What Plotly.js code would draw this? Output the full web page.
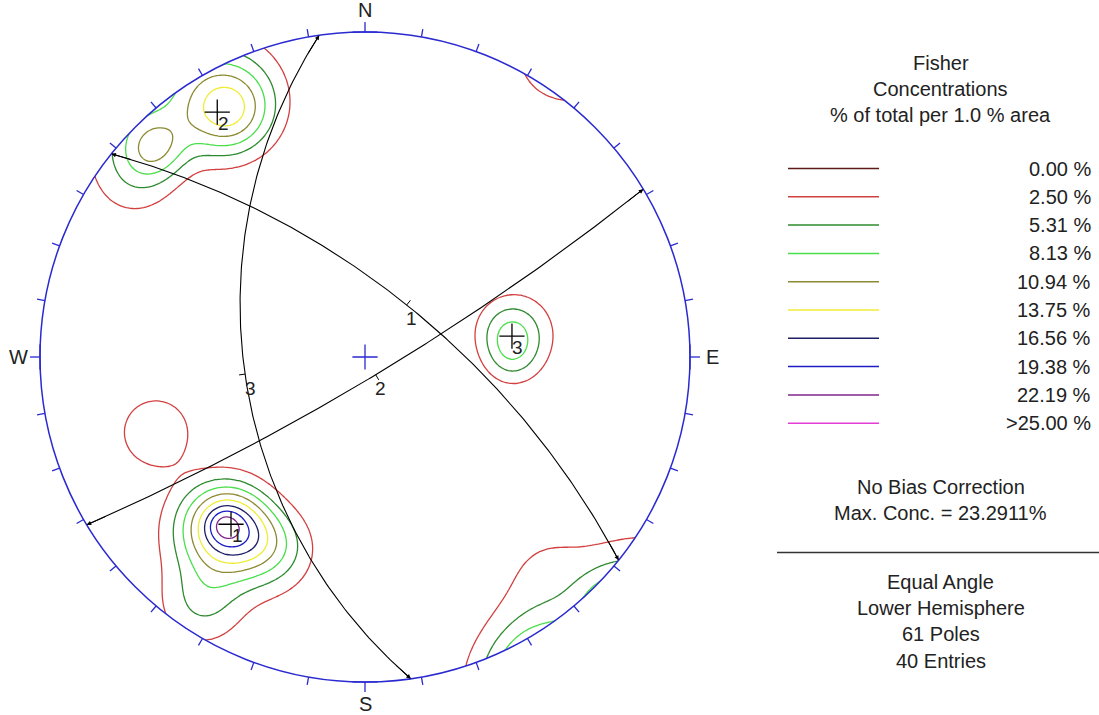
<!DOCTYPE html>
<html><head><meta charset="utf-8">
<script src="https://cdn.plot.ly/plotly-3.0.1.min.js"></script>
<style>html,body{margin:0;padding:0;background:#fff}</style>
</head><body><div id="chart" style="width:1099px;height:715px"></div>
<script>
// ---- Joint set planes (great circles): dip direction / dip, degrees ----
const planeNames  = ['1', '2', '3'];
const planeDipDir = [38.7, 148.9, 261.9];
const planeDip    = [66.8, 82.7, 49.1];

// ---- Fisher concentration centres (trend/plunge of pole groups) ----
const compTrend  = [219, 220, 206, 213.4, 250.2, 80.7, 91, 331, 315, 307.9, 140];
const compPlunge = [22, 22, 23.7, 5.5, 21.6, 40.7, 41.3, 7.5, 5.0, 6.2, 6];
const compPeak   = [20, 3.3, 6.5, 5.0, 4.9, 8.5, 3.5, 15.5, 8.5, 3.8, 3.2];
const compSpread = [7.5, 2.5, 7, 5.5, 6.5, 7, 5.5, 6.8, 4.5, 6, 9];

// ---- Contour legend ----
const levelValues = [0.00, 2.50, 5.3125, 8.125, 10.9375, 13.75, 16.5625, 19.375, 22.1875, 25.00];
const levelLabels = ['0.00 %', '2.50 %', '5.31 %', '8.13 %', '10.94 %', '13.75 %', '16.56 %', '19.38 %', '22.19 %', '>25.00 %'];
const levelColors = ['#5e1a1a', '#d24040', '#2e8a2e', '#4ade4a', '#8c8a32', '#f0ec36', '#1e1e64', '#1c1cc4', '#82268c', '#e23ed6'];

const cardinalLabels = ['N', 'E', 'S', 'W'];
const titleLines = ['Fisher', 'Concentrations', '% of total per 1.0 % area'];
const infoLinesA = ['No Bias Correction', 'Max. Conc. = 23.2911%'];
const infoLinesB = ['Equal Angle', 'Lower Hemisphere', '61 Poles', '40 Entries'];

// ---------------------------------------------------------------------
const D2R = Math.PI / 180;
const FONT = 'Liberation Sans, Arial, sans-serif';
const TXT = '#222';
const RIM = '#2a2ad0';

function vec(tr, pl) {
  return [Math.sin(tr * D2R) * Math.cos(pl * D2R), Math.cos(tr * D2R) * Math.cos(pl * D2R), Math.sin(pl * D2R)];
}
function proj(v) {
  const s = v[2] < 0 ? -1 : 1;
  const x = v[0] * s, y = v[1] * s, z = v[2] * s;
  return [x / (1 + z), y / (1 + z)];
}
const comps = compTrend.map((t, i) => ({
  m: vec(t, compPlunge[i]), a: compPeak[i], k: 1 / Math.pow(compSpread[i] * D2R, 2)
}));
function density(x, y) {
  const r2 = x * x + y * y, d = 1 + r2;
  const v = [2 * x / d, 2 * y / d, (1 - r2) / d];
  let s = 0;
  for (const c of comps) {
    const cs = Math.abs(v[0] * c.m[0] + v[1] * c.m[1] + v[2] * c.m[2]);
    s += c.a * Math.exp(c.k * (cs - 1));
  }
  return s;
}

// grid
const NG = 261, G0 = -1.15, G1 = 1.15;
const gx = [], gy = [];
for (let i = 0; i < NG; i++) { gx.push(G0 + (G1 - G0) * i / (NG - 1)); gy.push(G0 + (G1 - G0) * i / (NG - 1)); }
const gz = gy.map(y => gx.map(x => density(x, y)));

const drawnLevels = levelValues.slice(1, 9);
const zmin = drawnLevels[0], zmax = drawnLevels[drawnLevels.length - 1];
const cscale = [];
const nL = drawnLevels.length;
for (let i = 0; i < nL; i++) {
  const lo = i === 0 ? 0 : (i - 0.5) / (nL - 1);
  const hi = i === nL - 1 ? 1 : (i + 0.5) / (nL - 1);
  cscale.push([lo, levelColors[i + 1]]);
  cscale.push([hi, levelColors[i + 1]]);
}

const traces = [];
traces.push({
  type: 'contour', x: gx, y: gy, z: gz, xaxis: 'x', yaxis: 'y',
  zmin: zmin, zmax: zmax, colorscale: cscale, showscale: false,
  contours: { coloring: 'lines', start: zmin, end: zmax, size: (zmax - zmin) / (nL - 1), showlabels: false },
  line: { width: 1.3, smoothing: 0.6 }, hoverinfo: 'skip'
});

// great circles
const annotations = [];
const shapes = [];
planeDipDir.forEach((dd, p) => {
  const s = [Math.sin((dd - 90) * D2R), Math.cos((dd - 90) * D2R), 0];
  const dv = vec(dd, planeDip[p]);
  const xs = [], ys = [];
  for (let a = 0; a <= 180; a += 1) {
    const ca = Math.cos(a * D2R), sa = Math.sin(a * D2R);
    const v = [ca * s[0] + sa * dv[0], ca * s[1] + sa * dv[1], ca * s[2] + sa * dv[2]];
    const q = proj(v); xs.push(q[0]); ys.push(q[1]);
  }
  traces.push({ type: 'scatter', mode: 'lines', x: xs, y: ys, line: { color: '#000', width: 1.1 }, hoverinfo: 'skip', xaxis: 'x', yaxis: 'y' });
  // arrowheads at both ends
  [[0, 4], [xs.length - 1, xs.length - 5]].forEach(([e, b]) => {
    annotations.push({ xref: 'x', yref: 'y', axref: 'x', ayref: 'y', x: xs[e], y: ys[e], ax: xs[b], ay: ys[b],
      text: '', showarrow: true, arrowhead: 2, arrowsize: 0.9, arrowwidth: 1, arrowcolor: '#000', standoff: 0 });
  });
  // dip vector tick + label
  const q = proj(dv);
  const dir = [Math.sin(dd * D2R), Math.cos(dd * D2R)];
  const tl = 6 / 325;
  traces.push({ type: 'scatter', mode: 'lines', x: [q[0], q[0] + dir[0] * tl], y: [q[1], q[1] + dir[1] * tl],
    line: { color: '#000', width: 1 }, hoverinfo: 'skip', xaxis: 'x', yaxis: 'y' });
  annotations.push({ xref: 'x', yref: 'y', x: q[0], y: q[1], xshift: 5, yshift: -14, text: planeNames[p],
    showarrow: false, font: { family: FONT, size: 19, color: TXT } });
  // pole
  const pv = vec(dd + 180, 90 - planeDip[p]);
  const pp = proj(pv);
  traces.push({ type: 'scatter', mode: 'markers', x: [pp[0]], y: [pp[1]],
    marker: { symbol: 'cross-thin', size: 18, line: { color: '#000', width: 1.3 } }, hoverinfo: 'skip', xaxis: 'x', yaxis: 'y' });
  annotations.push({ xref: 'x', yref: 'y', x: pp[0], y: pp[1], xshift: 6, yshift: -11, text: planeNames[p],
    showarrow: false, font: { family: FONT, size: 19, color: TXT } });
});
// centre
traces.push({ type: 'scatter', mode: 'markers', x: [0], y: [0],
  marker: { symbol: 'cross-thin', size: 18, line: { color: RIM, width: 1.3 } }, hoverinfo: 'skip', xaxis: 'x', yaxis: 'y' });

// mask outside primitive circle
let mpath = 'M-1.6,-1.6L1.6,-1.6L1.6,1.6L-1.6,1.6Z';
for (let a = 0; a <= 360; a += 1) {
  mpath += (a === 0 ? 'M' : 'L') + Math.sin(a * D2R).toFixed(5) + ',' + Math.cos(a * D2R).toFixed(5);
}
mpath += 'Z';
shapes.push({ type: 'path', xref: 'x', yref: 'y', path: mpath, fillcolor: '#fff', fillrule: 'evenodd', line: { width: 0 }, layer: 'above' });
shapes.push({ type: 'circle', xref: 'x', yref: 'y', x0: -1, x1: 1, y0: -1, y1: 1, line: { color: RIM, width: 1.5 }, layer: 'above' });
for (let az = 0; az < 360; az += 10) {
  const sx = Math.sin(az * D2R), cy = Math.cos(az * D2R);
  const card = az % 90 === 0;
  const L = (card ? 10 : 8) / 325;
  shapes.push({ type: 'line', xref: 'x', yref: 'y', x0: sx, y0: cy, x1: sx * (1 + L), y1: cy * (1 + L), line: { color: RIM, width: 1.3 }, layer: 'above' });
  if (card) {
    const h = 12.5 / 325;
    shapes.push({ type: 'line', xref: 'x', yref: 'y', x0: sx - cy * h, y0: cy + sx * h, x1: sx + cy * h, y1: cy - sx * h, line: { color: RIM, width: 1.3 }, layer: 'above' });
    const lr = 1 + 22 / 325;
    annotations.push({ xref: 'x', yref: 'y', x: sx * lr, y: cy * lr, text: cardinalLabels[az / 90], showarrow: false,
      font: { family: FONT, size: 20, color: TXT } });
  }
}

// ---- legend panel (pixel-coordinate axes) ----
const rowY0 = 168.5, rowDY = 28.3;
levelLabels.forEach((lab, i) => {
  const y = rowY0 + i * rowDY;
  traces.push({ type: 'scatter', mode: 'lines', x: [788, 879], y: [y, y], xaxis: 'x2', yaxis: 'y2',
    line: { color: levelColors[i], width: 1.5 }, hoverinfo: 'skip' });
  annotations.push({ xref: 'x2', yref: 'y2', x: 1093, y: y, xanchor: 'right', yanchor: 'middle', text: lab, showarrow: false,
    font: { family: FONT, size: 20, color: TXT } });
});
const addLines = (lines, y0) => lines.forEach((t, i) => annotations.push({ xref: 'x2', yref: 'y2', x: 941, y: y0 + i * 26.2,
  text: t, showarrow: false, xanchor: 'center', yanchor: 'middle', font: { family: FONT, size: 20, color: TXT } }));
addLines(titleLines, 63);
addLines(infoLinesA, 487);
addLines(infoLinesB, 582);
shapes.push({ type: 'line', xref: 'x2', yref: 'y2', x0: 777, x1: 1099, y0: 552.5, y1: 552.5, line: { color: '#333', width: 1.5 } });

const layout = {
  width: 1099, height: 715, margin: { l: 0, r: 0, t: 0, b: 0 },
  paper_bgcolor: '#fff', plot_bgcolor: 'rgba(0,0,0,0)', showlegend: false, hovermode: false,
  xaxis: { domain: [1 / 1099, 729 / 1099], range: [-1.12, 1.12], visible: false, fixedrange: true },
  yaxis: { domain: [4 / 715, 712 / 715], range: [-354 / 325, 354 / 325], visible: false, fixedrange: true },
  xaxis2: { domain: [740 / 1099, 1], range: [740, 1099], visible: false, anchor: 'y2', fixedrange: true },
  yaxis2: { domain: [0, 1], range: [715, 0], visible: false, anchor: 'x2', fixedrange: true },
  shapes: shapes, annotations: annotations
};
Plotly.newPlot('chart', traces, layout, { staticPlot: true, displayModeBar: false });
</script></body></html>
